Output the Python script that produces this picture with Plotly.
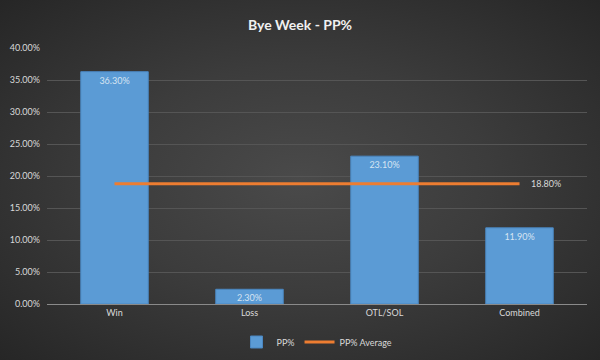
import plotly.graph_objects as go

categories = ["Win", "Loss", "OTL/SOL", "Combined"]
pp_pct = [0.363, 0.023, 0.231, 0.119]
pp_avg = [0.188, 0.188, 0.188, 0.188]
y_ticks = [0, 0.05, 0.10, 0.15, 0.20, 0.25, 0.30, 0.35, 0.40]

FONT = "Lato"

fig = go.Figure()
fig.add_trace(go.Bar(
    x=categories, y=pp_pct, name="PP%",
    marker=dict(color="#5b9bd5", line=dict(color="#4a86c0", width=1)),
    width=0.5,
    text=[f"{v*100:.2f}%" for v in pp_pct],
    textposition="inside", insidetextanchor="end",
    constraintext="none",
    textfont=dict(color="#d6e4f2", size=9, family=FONT),
))
fig.add_trace(go.Scatter(
    x=categories, y=pp_avg, name="PP% Average",
    mode="lines",
    line=dict(color="#ed7d31", width=3),
    cliponaxis=False,
))
fig.add_annotation(x=categories[-1], y=pp_avg[-1], text=f"{pp_avg[-1]*100:.2f}%",
                   showarrow=False, xanchor="left", yanchor="middle", xshift=9,
                   font=dict(color="#d9d9d9", size=9, family=FONT))

fig.update_layout(
    width=600, height=360,
    paper_bgcolor="rgba(0,0,0,0)", plot_bgcolor="rgba(0,0,0,0)",
    margin=dict(l=47, r=13, t=48, b=56, autoexpand=False),
    title=dict(text="<b>Bye Week - PP%</b>", x=0.5, xanchor="center", y=1 - 25 / 360, yanchor="middle",
               font=dict(color="#f0f0f0", size=14, family=FONT)),
    font=dict(family=FONT, color="#d9d9d9", size=9),
    showlegend=True,
    legend=dict(orientation="h", x=0.5, xanchor="center", y=-38 / 256, yanchor="middle",
                font=dict(color="#d9d9d9", size=9, family=FONT), bgcolor="rgba(0,0,0,0)"),
    bargap=0.5,
)
fig.update_yaxes(range=[0, 0.4], tickvals=y_ticks, tickformat=".2%", automargin=False,
                 gridcolor="#555555", gridwidth=1, zeroline=False,
                 showline=False, ticks="", ticklabelstandoff=6, tickfont=dict(color="#d9d9d9", size=9))
fig.update_xaxes(showgrid=False, showline=True, linecolor="#8a8a8a", linewidth=1, automargin=False,
                 ticks="", tickfont=dict(color="#d9d9d9", size=9))

post = (
    "document.documentElement.style.height='100%';"
    "document.body.style.margin='0';document.body.style.height='100%';"
    "document.documentElement.style.background='radial-gradient(ellipse at 50% 50%, #4a4a4a 0%, #3c3c3c 45%, #262626 100%)';"
)
fig.write_html("out.html", config={"displayModeBar": False}, post_script=post)
